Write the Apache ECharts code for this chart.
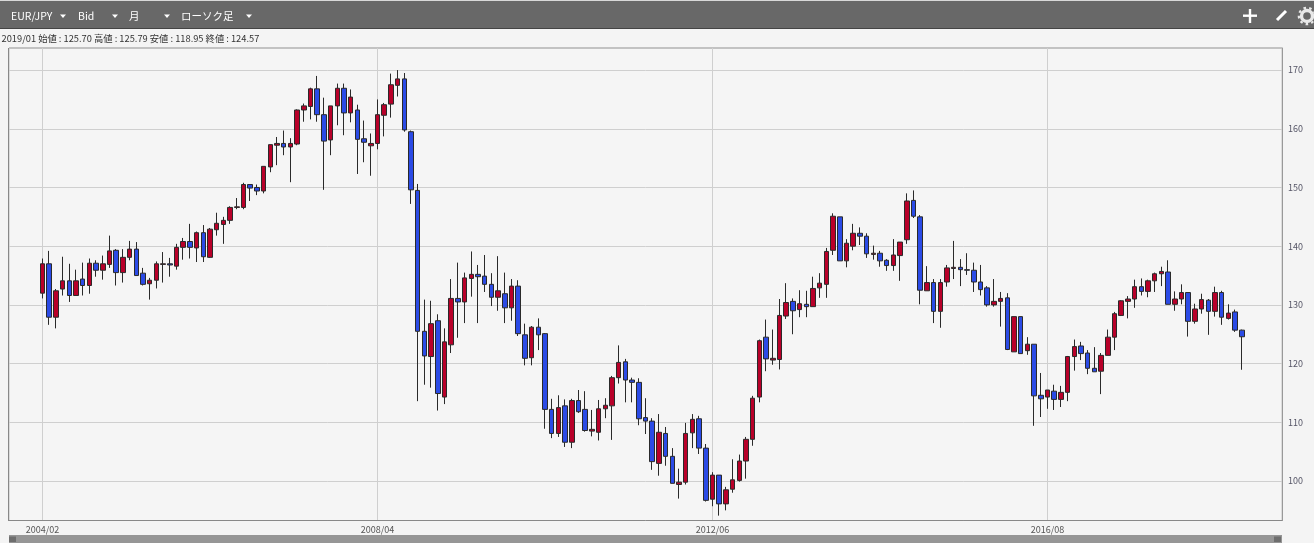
<!DOCTYPE html>
<html><head><meta charset="utf-8">
<style>html,body{margin:0;padding:0;background:#f4f4f4}#c{width:1314px;height:550px}</style>
<script src="https://cdn.jsdelivr.net/npm/echarts@6/dist/echarts.min.js"></script>
</head><body><div id="c"></div>
<script>
const opens = [132.0,137.0,127.9,132.7,134.1,131.6,134.4,133.3,137.1,135.9,136.9,139.3,135.5,138.1,139.5,135.4,133.6,134.2,136.9,137.0,
136.6,139.8,140.8,139.7,142.3,138.1,142.8,143.7,144.4,146.6,146.6,150.5,150.0,149.4,153.5,157.2,157.5,156.9,157.4,163.2,
163.8,166.8,162.4,158.1,163.9,166.9,162.7,163.2,158.3,157.1,157.5,162.3,164.2,167.4,168.5,159.5,149.5,125.5,121.2,127.3,
114.3,123.2,131.1,130.5,134.5,135.2,134.9,133.5,131.3,131.9,129.5,133.2,124.9,121.0,126.2,125.1,112.2,108.1,112.8,106.6,
113.7,112.2,108.5,108.3,112.3,112.8,117.6,120.3,117.2,116.8,110.8,110.2,103.0,108.1,104.2,99.4,99.8,108.2,110.6,105.6,
96.9,101.0,96.1,98.6,100.1,103.4,107.1,114.3,124.5,120.6,120.7,128.1,130.6,129.2,130.1,129.7,132.9,133.5,139.3,145.0,
137.5,140.0,142.2,141.7,138.6,138.8,137.6,136.7,138.4,141.1,147.8,145.0,132.4,133.8,128.9,133.9,136.2,136.4,136.0,135.9,
133.9,132.9,130.0,130.6,131.2,122.0,128.0,122.2,123.3,114.6,114.3,115.3,113.9,115.1,121.2,123.0,121.8,119.2,118.7,121.4,
124.5,128.2,130.6,131.0,133.1,132.3,134.1,135.3,135.6,130.1,131.0,132.1,127.2,129.3,130.8,128.9,132.1,127.7,128.8,125.70];
const closes = [137.0,127.9,132.4,134.1,131.6,134.1,133.3,137.1,135.9,137.0,139.2,135.5,138.1,139.5,135.0,133.5,134.2,137.0,137.0,136.8,
139.8,140.8,139.8,142.3,138.2,142.9,143.9,144.4,146.6,146.7,150.5,149.9,149.4,153.6,157.3,157.5,156.9,157.5,163.2,163.9,
166.8,162.4,157.9,163.9,166.9,162.7,165.4,158.2,157.7,157.5,162.4,164.1,167.5,168.5,159.8,149.6,125.5,121.3,126.8,114.9,
123.7,131.1,130.5,134.6,135.2,134.8,133.5,131.3,132.4,129.5,133.2,125.1,120.9,126.2,124.9,112.2,108.1,112.5,106.6,113.7,
111.8,108.6,108.8,112.3,112.9,117.6,120.2,117.2,116.8,110.6,110.2,103.3,108.3,104.2,99.6,99.8,108.1,110.5,105.6,96.7,
101.0,96.1,98.5,100.2,103.4,107.1,114.1,123.9,120.8,120.9,128.2,130.4,129.0,130.2,129.7,132.8,133.7,139.1,145.1,137.5,
140.5,142.2,141.7,138.7,138.8,137.5,136.7,138.5,140.7,147.7,145.1,132.5,133.8,128.9,133.8,136.3,136.4,136.0,135.9,133.9,
132.6,130.0,130.6,131.1,122.4,128.0,121.7,123.3,114.5,114.0,115.5,113.9,115.1,121.2,122.9,121.7,119.2,118.6,121.4,124.5,
128.5,130.7,131.0,133.1,132.3,134.1,135.3,135.7,130.1,131.0,132.1,127.2,129.3,130.9,128.9,132.1,127.9,128.6,125.7,124.57];
const lows = [131.1,126.6,126.0,131.6,130.5,131.6,131.6,131.9,134.8,134.3,136.3,133.3,133.8,137.6,135.0,133.3,130.9,132.8,133.8,134.8,
136.0,137.7,137.9,137.3,137.3,138.0,141.8,140.4,143.8,146.3,146.3,147.7,148.7,149.0,152.6,153.8,155.5,150.9,157.2,161.2,
161.6,161.2,149.6,155.5,160.6,158.9,161.1,152.3,154.3,152.0,156.5,158.7,161.9,165.5,159.5,147.2,113.6,116.4,115.9,112.0,
113.1,121.8,124.4,126.9,131.4,126.9,132.2,129.8,129.0,126.9,127.3,124.7,119.7,119.7,122.3,108.9,107.3,107.5,105.8,105.6,
111.6,108.4,107.6,106.9,110.7,107.0,116.6,113.4,113.4,109.5,108.0,101.9,100.9,102.6,99.6,97.0,99.4,105.6,104.6,96.5,
95.7,94.1,95.0,98.0,99.9,100.4,106.0,113.4,118.7,119.8,119.0,127.6,125.0,127.9,127.9,129.7,131.2,131.2,138.5,137.5,
136.4,139.3,140.2,138.0,137.7,136.5,135.8,135.8,134.1,140.4,144.8,130.1,132.4,126.9,126.1,133.1,134.4,133.2,135.1,132.2,
131.6,129.7,129.7,126.3,122.3,122.0,121.7,121.5,109.4,110.9,112.3,112.1,112.6,113.6,118.8,120.6,118.2,118.6,114.8,121.4,
122.3,128.1,127.7,129.5,131.6,131.3,132.2,133.2,130.1,129.0,130.1,124.6,126.8,128.5,124.9,128.0,126.6,127.5,125.4,118.95];
const highs = [137.9,139.2,132.7,138.2,137.0,136.0,137.2,137.9,137.6,138.4,141.8,139.5,139.5,140.9,140.7,136.3,134.6,137.4,139.0,138.0,
140.4,141.4,143.8,142.5,143.6,143.1,145.7,145.0,146.8,148.2,150.8,150.5,150.5,153.6,157.3,158.6,159.7,158.4,163.3,164.3,
167.0,169.0,165.3,163.9,167.7,167.7,166.7,164.1,161.4,159.2,165.0,164.4,169.4,170.0,169.5,159.7,150.6,130.9,130.7,128.4,
126.0,134.4,137.2,135.5,139.1,136.8,138.5,135.4,138.3,135.5,134.4,134.2,126.8,126.4,127.7,125.2,114.0,114.6,113.9,114.0,
115.5,115.3,112.1,113.8,114.1,117.9,123.1,120.8,117.6,117.5,114.1,110.7,111.4,109.2,105.6,102.1,109.9,111.4,111.1,106.3,
101.5,101.0,99.0,103.7,104.5,107.5,114.5,124.1,127.5,125.8,131.0,133.7,131.1,132.5,132.4,134.8,135.4,139.7,145.6,145.0,
141.2,143.8,143.2,142.2,140.1,139.2,137.8,141.2,140.7,149.0,149.5,145.3,136.6,134.4,134.4,136.8,140.9,137.8,138.8,137.2,
136.8,133.2,134.4,132.2,132.0,128.0,128.0,124.5,123.3,118.4,115.5,116.4,116.2,121.3,124.1,123.7,122.3,122.8,121.8,125.8,
128.8,130.8,131.5,134.3,134.5,134.3,135.5,136.5,137.6,132.3,133.5,132.1,130.2,131.9,131.0,133.1,132.4,130.1,129.2,125.79];
const firstYear = 2004, firstMonth = 2;
const leadingSlots = 5, trailingSlots = 6;
const tickEvery = 50;
const yTicks = [100,110,120,130,140,150,160,170];
const quoteLine = '2019/01 始値 : 125.70 高値 : 125.79 安値 : 118.95 終値 : 124.57';
const menuLabels = [['EUR/JPY',11,63],['Bid',78,115],['月',129,167],['ローソク足',181,249]];

const slotName = i => {
  const m = firstYear * 12 + firstMonth - 1 + i - leadingSlots;
  return Math.floor(m / 12) + '/' + String(m % 12 + 1).padStart(2, '0');
};
const categories = [];
for (let i = 0; i < opens.length + leadingSlots + trailingSlots; i++) categories.push(slotName(i));
const candles = opens.map((o, i) => [i + leadingSlots, o, closes[i], lows[i], highs[i]]);
const isTick = idx => idx >= leadingSlots && (idx - leadingSlots) % tickEvery === 0 && idx < opens.length + leadingSlots;

const FONT = '"Noto Sans CJK JP","Noto Sans",sans-serif';
const rect = (x, y, w, h, fill) => ({type:'rect', shape:{x,y,width:w,height:h}, style:{fill}, silent:true});
const tri = x => ({type:'polygon', shape:{points:[[x-3,14.5],[x+3,14.5],[x,18]]}, style:{fill:'#fff'}, silent:true});
const graphics = [
  rect(0,0,1314,1,'#d8d8d8'),
  rect(0,1,1314,27,'#686868'),
  rect(0,28,1314,1,'#444'),
  rect(0,543,1314,7,'#ffffff'),
  rect(9,535,1273,8,'#969696'),
  rect(9,536.5,7,5.5,'#6e6e6e'),
  rect(1274,536.5,7,5.5,'#6e6e6e'),
  rect(9,47,1273,2,'#c2c2c2'),
  rect(8,48,1,473,'#888'),
  rect(1243,14.5,14,2.4,'#fff'),
  rect(1248.8,9,2.4,14,'#fff'),
  {type:'line', shape:{x1:1277,y1:20,x2:1286,y2:11}, style:{stroke:'#fff',lineWidth:3}, silent:true},
  {type:'circle', shape:{cx:1307,cy:16,r:5.5}, style:{fill:'none',stroke:'#e8e8e8',lineWidth:3.4}, silent:true},
  {type:'circle', shape:{cx:1307,cy:16,r:8.2}, style:{fill:'none',stroke:'#e8e8e8',lineWidth:2.2,lineDash:[2.6,3.2]}, silent:true},
  {type:'text', x:1.5, y:38, style:{text:quoteLine, font:'9.3px '+FONT, fill:'#333', textVerticalAlign:'middle'}, silent:true}
];
menuLabels.forEach(([t,x,tx]) => {
  graphics.push({type:'text', x, y:16, style:{text:t, font:'10.5px '+FONT, fill:'#fff', textVerticalAlign:'middle'}, silent:true});
  graphics.push(tri(tx));
});

const chart = echarts.init(document.getElementById('c'), null, {renderer:'canvas'});
chart.setOption({
  animation:false,
  backgroundColor:'#f4f4f4',
  grid:{left:9, top:48, width:1273, height:472.5, show:true, backgroundColor:'#f5f5f5', borderColor:'#c2c2c2', borderWidth:1},
  xAxis:{
    type:'category', data:categories, boundaryGap:false,
    axisLine:{show:true, onZero:false, lineStyle:{color:'#888', width:1}},
    axisTick:{show:false},
    axisLabel:{interval:(i)=>isTick(i), color:'#555', fontSize:9, fontFamily:FONT, margin:5},
    splitLine:{show:true, interval:(i)=>isTick(i), lineStyle:{color:'#cfcfcf', width:1}}
  },
  yAxis:{
    type:'value', position:'right', scale:true, min:93.27, max:173.76,
    axisLine:{show:true, lineStyle:{color:'#999', width:1}},
    axisTick:{show:false, customValues:yTicks},
    axisLabel:{customValues:yTicks, color:'#556', fontSize:9, fontFamily:FONT, margin:6},
    splitLine:{show:true, lineStyle:{color:'#cfcfcf', width:1}}
  },
  series:[{
    type:'candlestick', data:candles, encode:{x:0, y:[1,2,3,4]}, barWidth:5,
    itemStyle:{color:'#b80029', color0:'#2b4be6', borderColor:'#2a2a2a', borderColor0:'#2a2a2a', borderColorDoji:'#2a2a2a', borderWidth:1},
    silent:true
  }],
  graphic:{elements:graphics}
});
</script></body></html>
